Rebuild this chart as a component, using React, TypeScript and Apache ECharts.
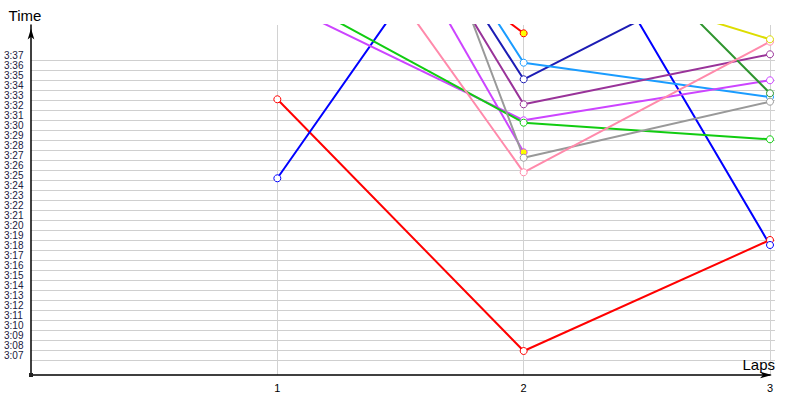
import React, { useEffect, useRef } from 'react';
import * as echarts from 'echarts';

// Laps on the x axis
const laps = [1, 2, 3];
const xTickLabels = ['1', '2', '3'];

// Lap times in seconds (3:07 = 187 s); values above the plot top are clipped
const yTickMin = 187; // 3:07
const yTickMax = 217; // 3:37
const yViewMin = 185.5;
const yViewMax = 220.5;

const redA = [213.07, 187.9, 199.0];
const blueB = [205.17, 240.3, 198.5];
const navyC = [253.4, 215.07, 227.6];
const skyD = [255.0, 216.73, 213.3];
const purpleE = [253.1, 212.57, 217.57];
const violetF = [222.9, 210.97, 214.97];
const violetG = [250.6, 207.77];
const greenH = [224.1, 210.73, 209.07];
const darkGreenI = [245.0, 238.4, 213.67];
const grayJ = [272.4, 207.23, 212.83];
const pinkK = [240.3, 205.77, 218.83];
const yellowL = [232.0, 226.6, 219.07];
const redM = [238.2, 219.67];

type S = { name: string; color: string; values: number[]; lastYellow?: boolean };
const seriesDefs: S[] = [
  { name: 'A', color: '#ff0000', values: redA },
  { name: 'B', color: '#0000ff', values: blueB },
  { name: 'C', color: '#1c1cb4', values: navyC },
  { name: 'D', color: '#1a9cff', values: skyD },
  { name: 'E', color: '#993399', values: purpleE },
  { name: 'F', color: '#cc44ff', values: violetF },
  { name: 'G', color: '#cc44ff', values: violetG, lastYellow: true },
  { name: 'H', color: '#11cc11', values: greenH },
  { name: 'I', color: '#2f952f', values: darkGreenI },
  { name: 'J', color: '#999999', values: grayJ },
  { name: 'K', color: '#ff8aab', values: pinkK },
  { name: 'L', color: '#dddd00', values: yellowL },
  { name: 'M', color: '#ff0000', values: redM, lastYellow: true },
];

function fmt(v: number): string {
  const m = Math.floor(v / 60);
  const s = Math.round(v - m * 60);
  return `${m}:${s < 10 ? '0' : ''}${s}`;
}

export default function App() {
  const ref = useRef<HTMLDivElement>(null);
  useEffect(() => {
    document.body.style.margin = '0';
    if (!ref.current) return;
    const chart = echarts.init(ref.current, undefined, { renderer: 'svg' });
    const font = "'Liberation Sans', Arial, sans-serif";
    const series = seriesDefs.map((d) => ({
      name: d.name,
      type: 'line',
      xAxisIndex: 0,
      yAxisIndex: 0,
      clip: true,
      symbol: 'circle',
      symbolSize: 7,
      showSymbol: true,
      lineStyle: { color: d.color, width: 2 },
      itemStyle: { color: '#ffffff', borderColor: d.color, borderWidth: 1 },
      data: d.values.map((v, i) => {
        const item: any = { value: [laps[i], v] };
        if (d.lastYellow && i === d.values.length - 1) {
          item.itemStyle = { color: '#ffff00', borderColor: d.color, borderWidth: 1 };
        }
        return item;
      }),
      z: 3,
    }));
    chart.setOption({
      animation: false,
      backgroundColor: '#ffffff',
      grid: [
        { left: 31, right: 30, top: 25, bottom: 25, containLabel: false },
        { left: 31, right: 25, top: 60, bottom: 40, containLabel: false },
      ],
      xAxis: [
        {
          type: 'value',
          gridIndex: 0,
          min: 0,
          max: 3,
          interval: 1,
          name: 'Laps',
          nameLocation: 'end',
          nameGap: 5,
          nameTextStyle: {
            fontFamily: font,
            fontSize: 15,
            color: '#000',
            align: 'right',
            verticalAlign: 'bottom',
            padding: [0, 0, 3, 0],
          },
          axisLine: {
            show: true,
            onZero: false,
            symbol: ['none', 'arrow'],
            symbolSize: [5, 12],
            symbolOffset: [0, 2],
            lineStyle: { color: '#000', width: 1.5 },
          },
          axisTick: { show: false },
          axisLabel: {
            show: true,
            showMinLabel: false,
            margin: 7,
            fontFamily: font,
            fontSize: 11,
            color: '#000',
            formatter: (v: number) => (v >= 1 && v <= 3 ? xTickLabels[v - 1] : ''),
          },
          splitLine: { show: true, showMinLine: false, lineStyle: { color: '#d2d2d2', width: 1 } },
        },
        {
          type: 'value',
          gridIndex: 1,
          min: 0,
          max: 3,
          show: false,
        },
      ],
      yAxis: [
        {
          type: 'value',
          gridIndex: 0,
          min: yViewMin,
          max: yViewMax,
          name: 'Time',
          nameLocation: 'end',
          nameGap: 2,
          nameTextStyle: {
            fontFamily: font,
            fontSize: 15,
            color: '#000',
            align: 'center',
            verticalAlign: 'bottom',
            padding: [0, 12, 0, 0],
          },
          axisLine: {
            show: true,
            onZero: false,
            symbol: ['none', 'arrow'],
            symbolSize: [5, 11],
            symbolOffset: [0, -3.5],
            lineStyle: { color: '#000', width: 1.5 },
          },
          axisTick: { show: false },
          axisLabel: { show: false },
          splitLine: { show: false },
        },
        {
          type: 'value',
          gridIndex: 1,
          min: yTickMin,
          max: yTickMax,
          interval: 1,
          axisLine: { show: false },
          axisTick: { show: false },
          axisLabel: {
            show: true,
            align: 'left',
            margin: 27,
            verticalAlign: 'bottom',
            lineHeight: 9,
            fontFamily: font,
            fontSize: 10,
            color: '#202040',
            formatter: (v: number) => fmt(v),
          },
          splitLine: { show: true, lineStyle: { color: '#cfcfcf', width: 1 } },
        },
      ],
      graphic: [
        {
          type: 'rect',
          left: 29,
          top: 373,
          shape: { width: 4, height: 4 },
          style: { fill: '#222' },
          z: 10,
        },
      ],
      series,
    });
    return () => chart.dispose();
  }, []);
  return <div ref={ref} style={{ width: 800, height: 400 }} />;
}
